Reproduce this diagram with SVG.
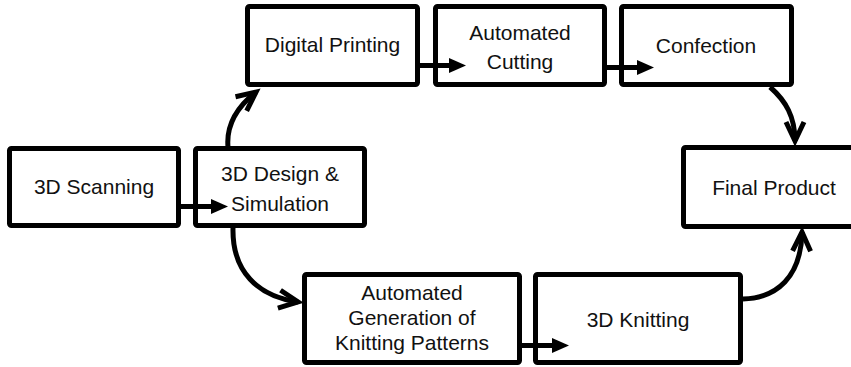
<svg xmlns="http://www.w3.org/2000/svg" width="851" height="367" viewBox="0 0 851 367">
  <style>
    .box { fill: #ffffff; stroke: #000000; stroke-width: 5; }
    .lbl { font-family: "Liberation Sans", Arial, sans-serif; font-size: 21px; fill: #111111; text-anchor: middle; }
    .bend { fill: none; stroke: #000000; stroke-width: 5; marker-end: url(#open); }
    .straight { fill: none; stroke: #000000; stroke-width: 5; marker-end: url(#solid); }
  </style>
  <defs>
    <!-- filled triangular head for the short straight links -->
    <marker id="solid" markerUnits="userSpaceOnUse" markerWidth="18" markerHeight="16" refX="0" refY="7.5" orient="auto" overflow="visible">
      <path d="M0,0 L17,7.5 L0,15 Z" fill="#000000"/>
    </marker>
    <!-- open chevron head for the curved links -->
    <marker id="open" markerUnits="userSpaceOnUse" markerWidth="30" markerHeight="30" refX="0" refY="0" orient="auto" overflow="visible">
      <path d="M-19,-9 L0,0 L-19,9" fill="none" stroke="#000000" stroke-width="5" stroke-linejoin="miter"/>
    </marker>
  </defs>

  <rect width="851" height="367" fill="#ffffff"/>

  <g id="scanning">
    <rect class="box" x="9.5" y="148.5" width="169" height="77" rx="2"/>
    <text class="lbl" x="94" y="194">3D Scanning</text>
  </g>

  <g id="design">
    <rect class="box" x="195.5" y="148.5" width="169" height="77" rx="2"/>
    <text class="lbl" x="280" y="181">3D Design &amp;</text>
    <text class="lbl" x="280" y="211">Simulation</text>
  </g>

  <g id="printing">
    <rect class="box" x="247.5" y="6.5" width="170" height="78" rx="2"/>
    <text class="lbl" x="332.5" y="52">Digital Printing</text>
  </g>

  <g id="cutting">
    <rect class="box" x="435.5" y="6.5" width="169" height="78" rx="2"/>
    <text class="lbl" x="520" y="40">Automated</text>
    <text class="lbl" x="520" y="69">Cutting</text>
  </g>

  <g id="confection">
    <rect class="box" x="621.5" y="6.5" width="170" height="78" rx="2"/>
    <text class="lbl" x="706" y="53">Confection</text>
  </g>

  <g id="final">
    <rect class="box" x="683.5" y="147.5" width="182" height="79" rx="2"/>
    <text class="lbl" x="774" y="195">Final Product</text>
  </g>

  <g id="patterns">
    <rect class="box" x="304.5" y="274.5" width="215" height="88" rx="2"/>
    <text class="lbl" x="412" y="300">Automated</text>
    <text class="lbl" x="412" y="325">Generation of</text>
    <text class="lbl" x="412" y="350">Knitting Patterns</text>
  </g>

  <g id="knitting">
    <rect class="box" x="535.5" y="274.5" width="205" height="88" rx="2"/>
    <text class="lbl" x="638" y="327">3D Knitting</text>
  </g>

  <!-- links drawn last so the short arrows sit over the box borders -->
  <g id="connectors">
    <line class="straight" x1="181" y1="206.5" x2="211" y2="206.5"/>
    <line class="straight" x1="420" y1="65.5" x2="449" y2="65.5"/>
    <line class="straight" x1="607" y1="67.5" x2="637" y2="67.5"/>
    <line class="straight" x1="522" y1="345.5" x2="552" y2="345.5"/>
    <path class="bend" d="M228,147 C226,124 237,107 256,92"/>
    <path class="bend" d="M233,228 C232,272 258,296 298,302"/>
    <path class="bend" d="M770,87 C786,101 795,117 795,141"/>
    <path class="bend" d="M743,299 C777,298 801,277 802,232"/>
  </g>
</svg>
